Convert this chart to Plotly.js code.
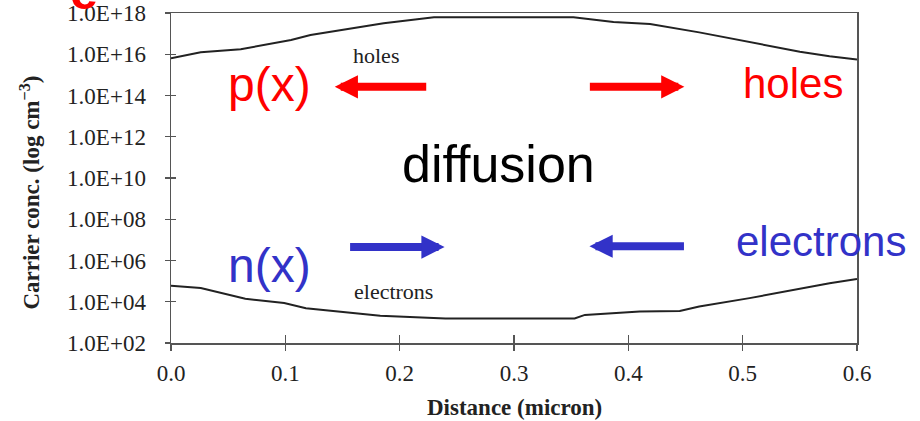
<!DOCTYPE html>
<html>
<head>
<meta charset="utf-8">
<script src="https://cdn.plot.ly/plotly-3.0.1.min.js"></script>
<style>html,body{margin:0;padding:0;background:#fff;}#chart{width:920px;height:421px;}</style>
</head>
<body>
<div id="chart"></div>
<script>
// Data
const holesX = [0.0, 0.026, 0.061, 0.105, 0.122, 0.186, 0.23, 0.352, 0.387, 0.419, 0.462, 0.506, 0.55, 0.576, 0.6];
const holesY = [6.3e15, 1.26e16, 1.74e16, 4.9e16, 8.5e16, 3.2e17, 6.2e17, 6.2e17, 3.7e17, 2.9e17, 1.15e17, 4.0e16, 1.32e16, 8.1e15, 5.6e15];
const electronsX = [0.0, 0.026, 0.065, 0.099, 0.118, 0.148, 0.183, 0.24, 0.353, 0.362, 0.41, 0.445, 0.462, 0.506, 0.55, 0.576, 0.6];
const electronsY = [5.9e4, 4.6e4, 1.4e4, 8.7e3, 4.9e3, 3.4e3, 2.1e3, 1.55e3, 1.55e3, 2.3e3, 3.4e3, 3.6e3, 5.9e3, 1.5e4, 4.2e4, 7.9e4, 1.26e5];
const xTickVals = [0.0, 0.1, 0.2, 0.3, 0.4, 0.5, 0.6];
const xTickText = ["0.0", "0.1", "0.2", "0.3", "0.4", "0.5", "0.6"];
const yTickVals = [1e2, 1e4, 1e6, 1e8, 1e10, 1e12, 1e14, 1e16, 1e18];
const yTickText = ["1.0E+02", "1.0E+04", "1.0E+06", "1.0E+08", "1.0E+10", "1.0E+12", "1.0E+14", "1.0E+16", "1.0E+18"];

const serif = "Liberation Serif, Times New Roman, serif";
const sans = "Liberation Sans, Arial, sans-serif";
const RED = "#ff0000";
const BLUE = "#3232c8";
const AX = "#555555";
const TXT = "#222222";

const traces = [
  {x: holesX, y: holesY, mode: "lines", line: {color: "#222", width: 2}, name: "holes", hoverinfo: "skip"},
  {x: electronsX, y: electronsY, mode: "lines", line: {color: "#222", width: 2}, name: "electrons", hoverinfo: "skip"},
  {x: [], y: [], xaxis: "x2", yaxis: "y2", showlegend: false}
];

const arrowBase = {text: "", showarrow: true, arrowhead: 2, arrowwidth: 8, arrowsize: 0.58, standoff: 0, ay: 0, xref: "x", yref: "y"};

const layout = {
  width: 920, height: 421,
  margin: {l: 171, r: 63, t: 13, b: 78},
  paper_bgcolor: "#ffffff", plot_bgcolor: "#ffffff",
  showlegend: false,
  xaxis: {
    range: [0, 0.6], showgrid: false, zeroline: false,
    showline: true, linecolor: AX, linewidth: 1.5, mirror: true,
    ticks: "outside", ticklen: 6, tickwidth: 1.2, tickcolor: AX,
    tickvals: xTickVals, ticktext: xTickText, ticklabelstandoff: 3,
    tickfont: {family: serif, size: 23, color: TXT}
  },
  yaxis: {
    type: "log", range: [2, 18], showgrid: false, zeroline: false,
    showline: true, linecolor: AX, linewidth: 1.5, mirror: true,
    ticks: "outside", ticklen: 5, tickwidth: 1.2, tickcolor: AX,
    tickvals: yTickVals, ticktext: yTickText, ticklabelstandoff: 14,
    tickfont: {family: serif, size: 23, color: TXT}
  },
  xaxis2: {
    overlaying: "x", anchor: "y2", range: [0, 0.6], showgrid: false, zeroline: false,
    showline: false, ticks: "inside", ticklen: 8, tickwidth: 1.2, tickcolor: AX,
    tickvals: xTickVals, showticklabels: false
  },
  yaxis2: {
    overlaying: "y", anchor: "x2", type: "log", range: [2, 18], showgrid: false, zeroline: false,
    showline: false, ticks: "inside", ticklen: 5, tickwidth: 1.2, tickcolor: AX,
    tickvals: yTickVals, showticklabels: false
  },
  annotations: [
    // axis titles
    {text: "<b>Distance (micron)</b>", xref: "paper", yref: "paper", x: 0.5, y: -0.194, xanchor: "center", yanchor: "middle",
     showarrow: false, font: {family: serif, size: 23, color: TXT}},
    {text: "<b>Carrier conc. (log cm<sup>−3</sup>)</b>", xref: "paper", yref: "paper", x: -0.2055, y: 0.456, textangle: -90,
     xanchor: "center", yanchor: "middle", showarrow: false, font: {family: serif, size: 23, color: TXT}},
    // curve labels
    {text: "holes", xref: "x", yref: "y", x: 0.179, y: 15.92, showarrow: false, font: {family: serif, size: 22, color: TXT}},
    {text: "electrons", xref: "x", yref: "y", x: 0.195, y: 4.52, showarrow: false, font: {family: serif, size: 22, color: TXT}},
    // overlay texts
    {text: "p(x)", xref: "x", yref: "y", x: 0.0865, y: 14.52, showarrow: false, font: {family: sans, size: 48, color: RED}},
    {text: "holes", xref: "x", yref: "y", x: 0.544, y: 14.56, showarrow: false, font: {family: sans, size: 42, color: RED}},
    {text: "n(x)", xref: "x", yref: "y", x: 0.0865, y: 5.78, showarrow: false, font: {family: sans, size: 48, color: BLUE}},
    {text: "electrons", xref: "x", yref: "y", x: 0.5686, y: 6.92, showarrow: false, font: {family: sans, size: 42, color: BLUE}},
    {text: "diffusion", xref: "x", yref: "y", x: 0.2866, y: 10.69, showarrow: false, font: {family: sans, size: 52, color: "#000"}},
    {text: "<b>e</b>", xref: "paper", yref: "paper", x: -0.127, y: 0.9727, xanchor: "center", yanchor: "bottom",
     showarrow: false, font: {family: sans, size: 50, color: RED}},
    // arrows
    Object.assign({}, arrowBase, {x: 0.1432, y: 14.42, ax: 93, arrowcolor: RED}),
    Object.assign({}, arrowBase, {x: 0.449, y: 14.42, ax: -96, arrowcolor: RED}),
    Object.assign({}, arrowBase, {x: 0.2393, y: 6.65, ax: -96, arrowcolor: BLUE}),
    Object.assign({}, arrowBase, {x: 0.366, y: 6.69, ax: 96, arrowcolor: BLUE})
  ]
};

Plotly.newPlot("chart", traces, layout, {displayModeBar: false, staticPlot: true});
</script>
</body>
</html>
